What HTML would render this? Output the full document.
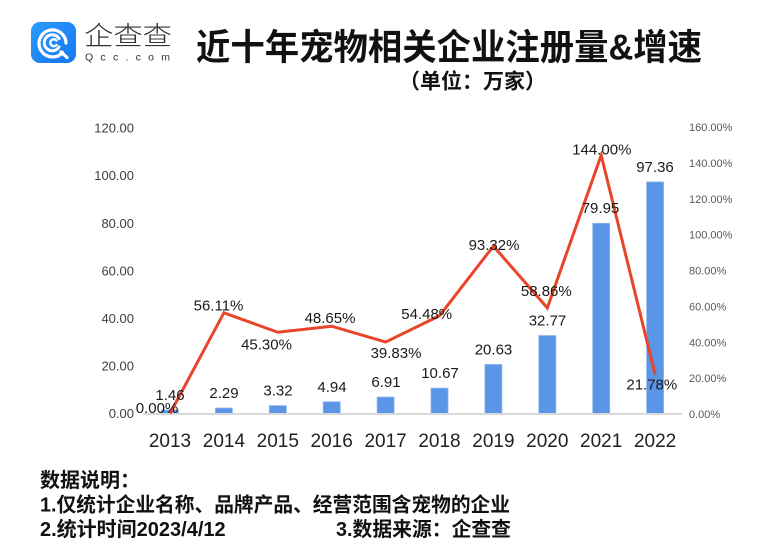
<!DOCTYPE html>
<html>
<head>
<meta charset="utf-8">
<style>
html,body{margin:0;padding:0;background:#fff;}
svg{display:block;}
</style>
</head>
<body>
<svg width="782" height="556" viewBox="0 0 782 556" xmlns="http://www.w3.org/2000/svg">
<defs>
<linearGradient id="lg" x1="0" y1="0" x2="1" y2="1">
<stop offset="0" stop-color="#2a9bff"/>
<stop offset="1" stop-color="#1677f0"/>
</linearGradient>
</defs>
<rect width="782" height="556" fill="#fff"/>

<!-- Logo -->
<rect x="31" y="22" width="45" height="41" rx="9" fill="url(#lg)"/>
<path d="M62.5 52.5 A13.5 13.5 0 1 1 66 43" fill="none" stroke="#fff" stroke-width="3.2" stroke-linecap="round"/>
<path d="M61 52 L67 57.5" stroke="#fff" stroke-width="3.2" stroke-linecap="round"/>
<path d="M59 38.5 A8 8 0 1 0 59 47" fill="none" stroke="#fff" stroke-width="3" stroke-linecap="round"/>
<path d="M56.5 40.5 A3.5 3.5 0 1 0 56.5 45" fill="none" stroke="#fff" stroke-width="2.4" stroke-linecap="round"/>
<text x="84" y="45" font-family="'Liberation Sans','Noto Sans CJK SC',sans-serif" font-size="26" font-weight="300" fill="#333" textLength="88" lengthAdjust="spacingAndGlyphs">企查查</text>
<text x="85" y="60.5" font-family="'Liberation Sans','Noto Sans CJK SC',sans-serif" font-size="10.5" fill="#333" textLength="85" lengthAdjust="spacing">Qcc.com</text>

<!-- Title -->
<text x="196" y="59.5" font-family="'Liberation Sans','Noto Sans CJK SC',sans-serif" font-size="36" font-weight="bold" fill="#111" textLength="506" lengthAdjust="spacingAndGlyphs">近十年宠物相关企业注册量&amp;增速</text>
<text x="399" y="88.5" font-family="'Liberation Sans','Noto Sans CJK SC',sans-serif" font-size="21" font-weight="bold" fill="#111">（单位：万家）</text>

<!-- Left axis labels -->
<g font-family="'Liberation Sans',sans-serif" font-size="13" fill="#404040" text-anchor="end">
<text x="134" y="418.1">0.00</text>
<text x="134" y="370.5">20.00</text>
<text x="134" y="322.9">40.00</text>
<text x="134" y="275.4">60.00</text>
<text x="134" y="227.8">80.00</text>
<text x="134" y="180.2">100.00</text>
<text x="134" y="132.6">120.00</text>
</g>

<!-- Right axis labels -->
<g font-family="'Liberation Sans',sans-serif" font-size="11" fill="#595959">
<text x="689" y="418">0.00%</text>
<text x="689" y="382.1">20.00%</text>
<text x="689" y="346.3">40.00%</text>
<text x="689" y="310.4">60.00%</text>
<text x="689" y="274.5">80.00%</text>
<text x="689" y="238.6">100.00%</text>
<text x="689" y="202.8">120.00%</text>
<text x="689" y="166.9">140.00%</text>
<text x="689" y="131">160.00%</text>
</g>

<!-- Bars -->
<g fill="#5b95e5" stroke="#8db6ee" stroke-width="0.8">
<rect x="161.5" y="410.0" width="17" height="3.5"/>
<rect x="215.4" y="408.05" width="17" height="5.45"/>
<rect x="269.3" y="405.6" width="17" height="7.9"/>
<rect x="323.2" y="401.75" width="17" height="11.75"/>
<rect x="377.1" y="397.06" width="17" height="16.44"/>
<rect x="431.0" y="388.12" width="17" height="25.38"/>
<rect x="484.9" y="364.42" width="17" height="49.08"/>
<rect x="538.8" y="335.54" width="17" height="77.96"/>
<rect x="592.7" y="223.3" width="17" height="190.2"/>
<rect x="646.6" y="181.9" width="17" height="231.6"/>
</g>

<!-- X axis line -->
<line x1="143" y1="414" x2="682" y2="414" stroke="#d9d9d9" stroke-width="2"/>

<!-- Line series -->
<polyline fill="none" stroke="#e8452a" stroke-width="3" stroke-linejoin="miter" points="170,413.5 223.9,312.84 277.8,332.23 331.7,326.22 385.6,342.04 439.5,315.76 493.4,246.08 547.3,307.9 601.2,155.2 655.1,374.43"/>

<!-- Bar labels -->
<g font-family="'Liberation Sans',sans-serif" font-size="15" fill="#1a1a1a" text-anchor="middle">
<text x="170" y="400">1.46</text>
<text x="224" y="398.2">2.29</text>
<text x="278" y="395.6">3.32</text>
<text x="332" y="391.8">4.94</text>
<text x="386" y="387">6.91</text>
<text x="440" y="378">10.67</text>
<text x="493.5" y="354.4">20.63</text>
<text x="547.5" y="325.5">32.77</text>
<text x="600.5" y="213">79.95</text>
<text x="655" y="171.8">97.36</text>
</g>

<!-- Line labels -->
<g font-family="'Liberation Sans',sans-serif" font-size="15" fill="#1a1a1a" text-anchor="middle">
<text x="157" y="413">0.00%</text>
<text x="218.5" y="310.6">56.11%</text>
<text x="266.5" y="349.3">45.30%</text>
<text x="330" y="323">48.65%</text>
<text x="396" y="357.8">39.83%</text>
<text x="426.7" y="319">54.48%</text>
<text x="494" y="250">93.32%</text>
<text x="546.3" y="296">58.86%</text>
<text x="601.8" y="154.3">144.00%</text>
<text x="651.8" y="389.5">21.78%</text>
</g>

<!-- X labels -->
<g font-family="'Liberation Sans',sans-serif" font-size="19" fill="#222" text-anchor="middle">
<text x="170" y="447">2013</text>
<text x="223.9" y="447">2014</text>
<text x="277.8" y="447">2015</text>
<text x="331.7" y="447">2016</text>
<text x="385.6" y="447">2017</text>
<text x="439.5" y="447">2018</text>
<text x="493.4" y="447">2019</text>
<text x="547.3" y="447">2020</text>
<text x="601.2" y="447">2021</text>
<text x="655.1" y="447">2022</text>
</g>

<!-- Footer -->
<g font-family="'Liberation Sans','Noto Sans CJK SC',sans-serif" font-size="20" font-weight="bold" fill="#111">
<text x="40" y="487">数据说明：</text>
<text x="40" y="511.5" textLength="470" lengthAdjust="spacingAndGlyphs">1.仅统计企业名称、品牌产品、经营范围含宠物的企业</text>
<text x="40" y="536">2.统计时间2023/4/12</text>
<text x="336" y="536" textLength="175" lengthAdjust="spacingAndGlyphs">3.数据来源：企查查</text>
</g>
</svg>
</body>
</html>
